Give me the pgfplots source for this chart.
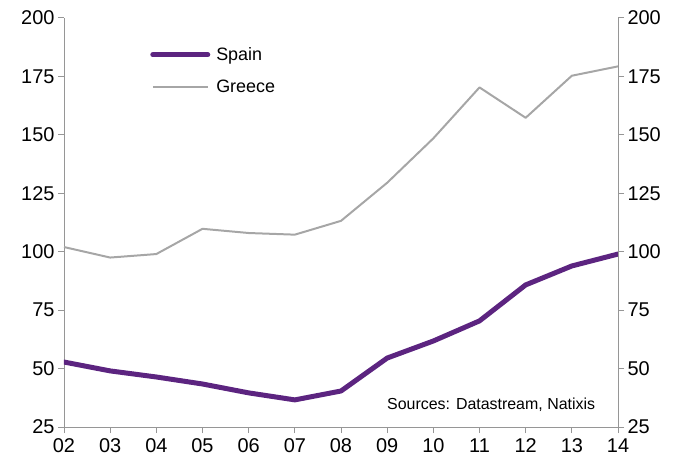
\documentclass[border=0pt]{standalone}
\usepackage{pgfplots}
\pgfplotsset{compat=1.18}
\usepackage{fontspec}
\setmainfont{Liberation Sans}

\definecolor{spain}{RGB}{92,36,128}
\definecolor{greece}{RGB}{166,166,166}
\definecolor{spine}{RGB}{150,150,150}

\pgfplotstableread{
x  spain  greece
0  52.8   102.0
1  49.0   97.5
2  46.4   99.0
3  43.4   109.8
4  39.6   108.0
5  36.6   107.3
6  40.4   113.2
7  54.5   129.5
8  61.8   148.5
9  70.4   170.3
10 85.8   157.3
11 93.9   175.3
12 99.0   179.3
}\ratios

\pgfplotsset{
  base/.style={
    scale only axis, width=554bp, height=409bp,
    xmin=0, xmax=12, ymin=25, ymax=200,
    ytick={25,50,...,200},
    tick align=outside,
    major tick length=6bp,
    every tick/.style={spine, line width=1pt},
    axis line style={spine, line width=1pt},
    tick label style={font=\fontsize{20}{24}\selectfont},
    /pgf/number format/assume math mode=true,
  }
}

\begin{document}
\begin{tikzpicture}
\begin{axis}[base,
  axis x line*=bottom, axis y line*=left,
  xtick={0,...,12},
  xticklabels={02,03,04,05,06,07,08,09,10,11,12,13,14},
  xticklabel style={yshift=-2bp},
  legend style={at={(0.150,0.938)}, anchor=north west, draw=none, fill=none,
    font=\fontsize{18}{22}\selectfont, row sep=14bp,
    /tikz/every even column/.append style={column sep=4bp}},
  legend cell align=left,
  legend image code/.code={\draw[#1] (0bp,0bp) -- (55bp,0bp);},
  legend style={nodes={inner xsep=6bp}},
]
\addplot[spain, line width=5pt, line cap=round, line join=round] table[x=x, y=spain] {\ratios};
\addlegendentry{Spain}
\addplot[greece, line width=2pt, line join=round] table[x=x, y=greece] {\ratios};
\addlegendentry{Greece}
\node[anchor=base east, font=\fontsize{16}{19}\selectfont] at (axis cs:11.58,32.3) {Sources: Datastream, Natixis};
\end{axis}
\begin{axis}[base,
  axis x line=none, axis y line*=right,
  ytick pos=right, yticklabel pos=right,
]
\end{axis}
\pgfresetboundingbox
\path (0,0)++(-64bp,-36bp) rectangle (610bp,427bp);
\end{tikzpicture}
\end{document}
